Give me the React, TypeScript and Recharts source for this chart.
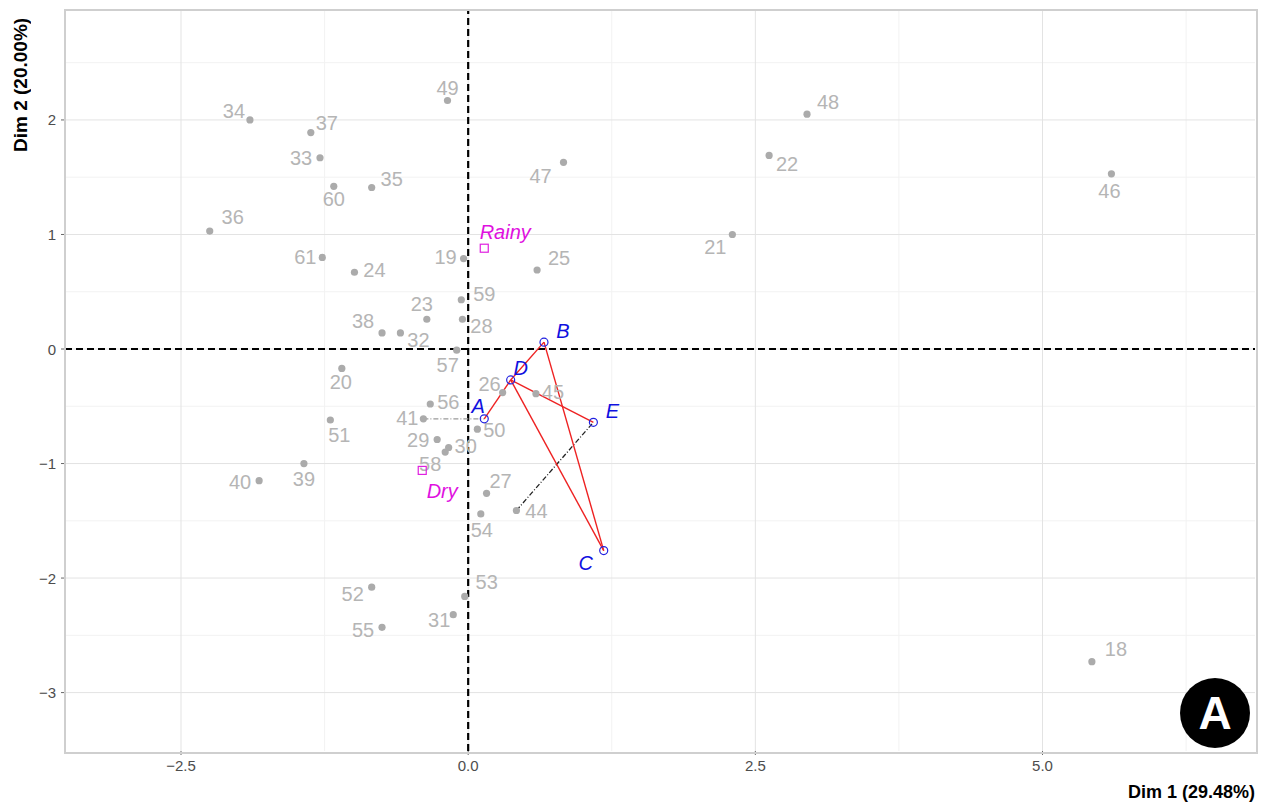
import React from "react";
import {
  ScatterChart,
  Scatter,
  XAxis,
  YAxis,
  CartesianGrid,
  ReferenceLine,
} from "recharts";

// individuals: [id, Dim 1, Dim 2]
const individuals: [string, number, number][] = [
  ["18", 5.43, -2.73],
  ["19", -0.04, 0.79],
  ["20", -1.1, -0.17],
  ["21", 2.3, 1.0],
  ["22", 2.62, 1.69],
  ["23", -0.36, 0.26],
  ["24", -0.99, 0.67],
  ["25", 0.6, 0.69],
  ["26", 0.3, -0.38],
  ["27", 0.16, -1.26],
  ["28", -0.05, 0.26],
  ["29", -0.27, -0.79],
  ["30", -0.17, -0.86],
  ["31", -0.13, -2.32],
  ["32", -0.59, 0.14],
  ["33", -1.29, 1.67],
  ["34", -1.9, 2.0],
  ["35", -0.84, 1.41],
  ["36", -2.25, 1.03],
  ["37", -1.37, 1.89],
  ["38", -0.75, 0.14],
  ["39", -1.43, -1.0],
  ["40", -1.82, -1.15],
  ["41", -0.39, -0.61],
  ["44", 0.42, -1.41],
  ["45", 0.59, -0.39],
  ["46", 5.6, 1.53],
  ["47", 0.83, 1.63],
  ["48", 2.95, 2.05],
  ["49", -0.18, 2.17],
  ["50", 0.08, -0.7],
  ["51", -1.2, -0.62],
  ["52", -0.84, -2.08],
  ["53", -0.03, -2.16],
  ["54", 0.11, -1.44],
  ["55", -0.75, -2.43],
  ["56", -0.33, -0.48],
  ["57", -0.1, -0.01],
  ["58", -0.2, -0.9],
  ["59", -0.06, 0.43],
  ["60", -1.17, 1.42],
  ["61", -1.27, 0.8],
];

// supplementary individuals
const supplementary: [string, number, number][] = [
  ["A", 0.14, -0.61],
  ["B", 0.66, 0.06],
  ["C", 1.18, -1.76],
  ["D", 0.37, -0.27],
  ["E", 1.09, -0.64],
];

// supplementary categories
const categories: [string, number, number][] = [
  ["Rainy", 0.14, 0.88],
  ["Dry", -0.4, -1.06],
];

const redEdges: [string, string][] = [
  ["A", "D"],
  ["D", "B"],
  ["B", "C"],
  ["C", "D"],
  ["D", "E"],
];

const dashedLinks: [string, string, string][] = [
  ["41", "A", "#9a9a9a"],
  ["44", "E", "#222222"],
];

const xTicks = [-2.5, 0, 2.5, 5];
const yTicks = [-3, -2, -1, 0, 1, 2];
const xMinor = [-1.25, 1.25, 3.75, 6.25];
const yMinor = [-2.5, -1.5, -0.5, 0.5, 1.5, 2.5];

// label placement (pixel nudges, like ggrepel output)
const nudge: Record<string, [number, number]> = {
  "18": [24, -13], "19": [-18, -2], "20": [-1, 14], "21": [-17, 13],
  "22": [18, 9], "23": [-5, -15], "24": [20, -2], "25": [22, -12],
  "26": [-13, -9], "27": [14, -12], "28": [19, 7], "29": [-19, 1],
  "30": [17, -1], "31": [-14, 5], "32": [18, 7], "33": [-19, 0],
  "34": [-16, -9], "35": [20, -9], "36": [23, -14], "37": [16, -10],
  "38": [-19, -12], "39": [0, 15], "40": [-19, 1], "41": [-16, -1],
  "44": [20, 1], "45": [17, -2], "46": [-2, 17], "47": [-23, 14],
  "48": [21, -12], "49": [0, -12], "50": [17, 1], "51": [9, 15],
  "52": [-19, 7], "53": [22, -14], "54": [1, 16], "55": [-19, 3],
  "56": [18, -2], "57": [-9, 15], "58": [-15, 12], "59": [23, -6],
  "60": [0, 13], "61": [-17, 0],
  A: [-6, -13], B: [19, -11], C: [-18, 12], D: [10, -12], E: [19, -11],
  Rainy: [21, -16], Dry: [20, 21],
};

const toPoints = (rows: [string, number, number][]) =>
  rows.map(([id, x, y]) => ({ id, x, y }));

const find = (id: string) =>
  [...individuals, ...supplementary].find((r) => r[0] === id)!;

const FONT = '"Liberation Sans", Arial, Helvetica, sans-serif';

const IndShape = (props: any) => {
  const { cx, cy, payload } = props;
  const [dx, dy] = nudge[payload.id] || [0, 0];
  return (
    <g>
      <circle cx={cx} cy={cy} r={3.6} fill="#ababab" />
      <text
        x={cx + dx}
        y={cy + dy}
        textAnchor="middle"
        dominantBaseline="central"
        fontSize={20}
        fontFamily={FONT}
        fill="#b5b5b5"
      >
        {payload.id}
      </text>
    </g>
  );
};

const SupShape = (props: any) => {
  const { cx, cy, payload } = props;
  const [dx, dy] = nudge[payload.id] || [0, 0];
  return (
    <g>
      <circle cx={cx} cy={cy} r={4} fill="none" stroke="#2020e0" strokeWidth={1.2} />
      <text
        x={cx + dx}
        y={cy + dy}
        textAnchor="middle"
        dominantBaseline="central"
        fontSize={20}
        fontStyle="italic"
        fontFamily={FONT}
        fill="#1010e0"
      >
        {payload.id}
      </text>
    </g>
  );
};

const CatShape = (props: any) => {
  const { cx, cy, payload } = props;
  const [dx, dy] = nudge[payload.id] || [0, 0];
  return (
    <g>
      <rect x={cx - 4} y={cy - 4} width={8} height={8} fill="none" stroke="#e020e0" strokeWidth={1.2} />
      <text
        x={cx + dx}
        y={cy + dy}
        textAnchor="middle"
        dominantBaseline="central"
        fontSize={20}
        fontStyle="italic"
        fontFamily={FONT}
        fill="#e010e0"
      >
        {payload.id}
      </text>
    </g>
  );
};

const fmt = (v: number, digits: number) =>
  v.toFixed(digits).replace("-", "\u2212");

const XTick = (props: any) => {
  const { x, y, payload } = props;
  return (
    <text x={x} y={y + 14} textAnchor="middle" fontSize={15} fontFamily={FONT} fill="#4d4d4d">
      {fmt(payload.value, 1)}
    </text>
  );
};

const YTick = (props: any) => {
  const { x, y, payload } = props;
  return (
    <text x={x - 3} y={y} textAnchor="end" dominantBaseline="central" fontSize={15} fontFamily={FONT} fill="#4d4d4d">
      {fmt(payload.value, 0)}
    </text>
  );
};

export default function App() {
  return (
    <div style={{ position: "absolute", left: 0, top: 0, width: 1270, height: 807, background: "#fff" }}>
      <ScatterChart
        width={1270}
        height={807}
        margin={{ top: 10, right: 15, left: 0, bottom: 0 }}
      >
        <CartesianGrid
          stroke="#f2f2f2"
          strokeWidth={1}
          horizontalValues={yMinor}
          verticalValues={xMinor}
        />
        <CartesianGrid
          stroke="#e3e3e3"
          strokeWidth={1}
          horizontalValues={yTicks}
          verticalValues={xTicks}
        />
        <XAxis
          type="number"
          dataKey="x"
          domain={[-3.51, 6.85]}
          ticks={xTicks}
          interval={0}
          allowDataOverflow
          height={56}
          axisLine={false}
          tickLine={{ stroke: "#666" }}
          tickSize={4}
          tick={<XTick />}
        />
        <YAxis
          type="number"
          dataKey="y"
          domain={[-3.51, 2.96]}
          ticks={yTicks}
          interval={0}
          allowDataOverflow
          width={65}
          axisLine={false}
          tickLine={{ stroke: "#666" }}
          tickSize={4}
          tick={<YTick />}
        />
        <ReferenceLine x={0} stroke="#000" strokeWidth={2.2} strokeDasharray="7 4" />
        <ReferenceLine y={0} stroke="#000" strokeWidth={2.2} strokeDasharray="7 4" />
        {dashedLinks.map(([a, b, c]) => {
          const p = find(a);
          const q = find(b);
          return (
            <ReferenceLine
              key={a + b}
              segment={[
                { x: p[1], y: p[2] },
                { x: q[1], y: q[2] },
              ]}
              stroke={c}
              strokeWidth={1.3}
              strokeDasharray="5 2 1 2"
            />
          );
        })}
        {redEdges.map(([a, b]) => {
          const p = find(a);
          const q = find(b);
          return (
            <ReferenceLine
              key={a + b}
              segment={[
                { x: p[1], y: p[2] },
                { x: q[1], y: q[2] },
              ]}
              stroke="#ee2222"
              strokeWidth={1.4}
            />
          );
        })}
        <Scatter data={toPoints(individuals)} shape={IndShape} isAnimationActive={false} />
        <Scatter data={toPoints(categories)} shape={CatShape} isAnimationActive={false} />
        <Scatter data={toPoints(supplementary)} shape={SupShape} isAnimationActive={false} />
      </ScatterChart>
      <div
        style={{
          position: "absolute",
          left: 64,
          top: 9,
          width: 1190,
          height: 741,
          border: "2px solid #cfcfcf",
          pointerEvents: "none",
        }}
      />
      <div
        style={{
          position: "absolute",
          right: 15,
          top: 782,
          fontFamily: FONT,
          fontWeight: "bold",
          fontSize: 18,
          color: "#000",
          whiteSpace: "nowrap",
        }}
      >
        Dim 1 (29.48%)
      </div>
      <div
        style={{
          position: "absolute",
          left: 10,
          top: 10,
          writingMode: "vertical-rl",
          transform: "rotate(180deg)",
          fontFamily: FONT,
          fontWeight: "bold",
          fontSize: 19,
          color: "#000",
          whiteSpace: "nowrap",
          height: 142,
          textAlign: "left",
        }}
      >
        Dim 2 (20.00%)
      </div>
      <div
        style={{
          position: "absolute",
          left: 1180,
          top: 678,
          width: 70,
          height: 70,
          borderRadius: "50%",
          background: "#000",
          color: "#fff",
          fontFamily: FONT,
          fontWeight: "bold",
          fontSize: 46,
          lineHeight: "70px",
          textAlign: "center",
        }}
      >
        A
      </div>
    </div>
  );
}
